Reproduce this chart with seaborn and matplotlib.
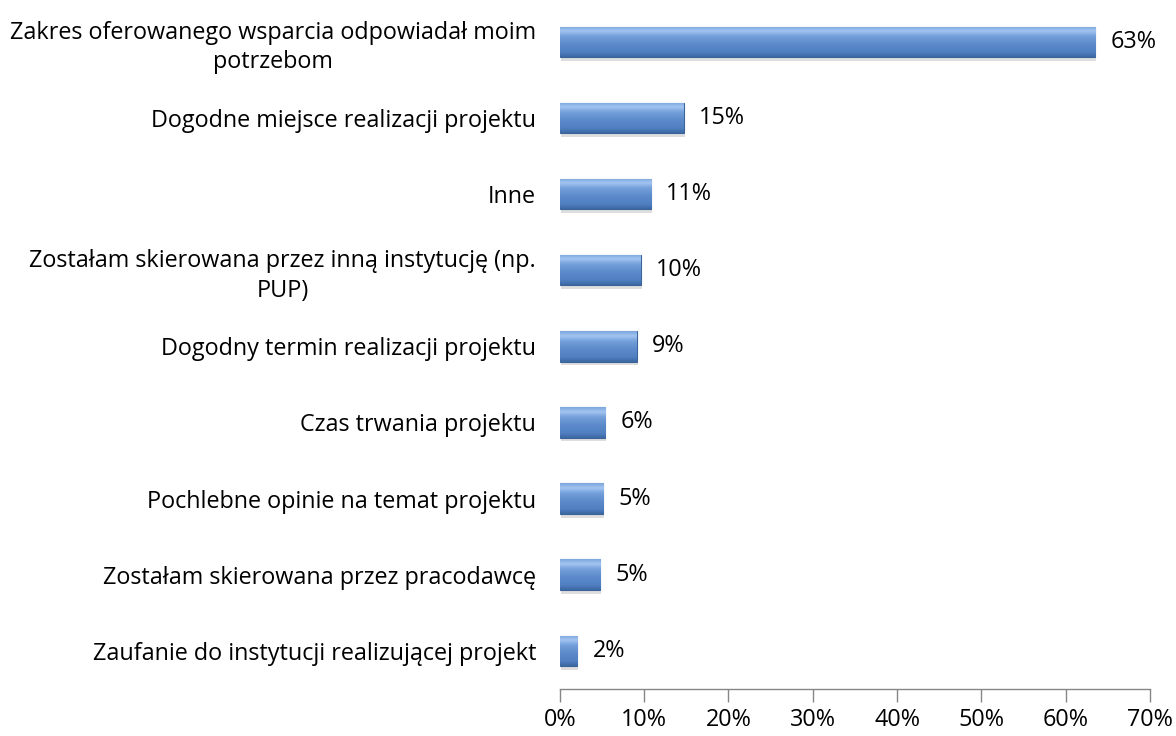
import numpy as np
import pandas as pd
import matplotlib.pyplot as plt
import matplotlib.colors as mcolors
import seaborn as sns

# ── DANE ────────────────────────────────────────────────────
kategorie = [
    'Zakres oferowanego wsparcia odpowiadał moim\npotrzebom',
    'Dogodne miejsce realizacji projektu',
    'Inne',
    'Zostałam skierowana przez inną instytucję (np.\nPUP)',
    'Dogodny termin realizacji projektu',
    'Czas trwania projektu',
    'Pochlebne opinie na temat projektu',
    'Zostałam skierowana przez pracodawcę',
    'Zaufanie do instytucji realizującej projekt',
]
wartosci = [63.5, 14.7, 10.8, 9.6, 9.1, 5.4, 5.1, 4.8, 2.1]
etykiety = ['63%', '15%', '11%', '10%', '9%', '6%', '5%', '5%', '2%']
ticki_x = [0, 10, 20, 30, 40, 50, 60, 70]

df = pd.DataFrame({'kategoria': kategorie, 'wartosc': wartosci})

# ── STYL ────────────────────────────────────────────────────
sns.set_theme(style='white')
plt.rcParams['font.family'] = ['Open Sans', 'DejaVu Sans']
plt.rcParams['text.color'] = 'black'
plt.rcParams['xtick.color'] = 'black'
plt.rcParams['ytick.color'] = 'black'
FS = 16.8

fig = plt.figure(figsize=(11.76, 7.36), dpi=100)
ax = fig.add_axes([0.476, 0.064, 0.502, 0.931])

sns.barplot(data=df, x='wartosc', y='kategoria', color='#5A88C9',
            width=0.4, edgecolor='#3B6598', linewidth=0.8, ax=ax)

# gradient w słupkach (efekt "wypukły")
grad = mcolors.LinearSegmentedColormap.from_list(
    'bevel', [(0.0, '#7EA6DD'), (0.15, '#A2C4F0'), (0.32, '#74A0DA'),
              (0.6, '#5B89CA'), (0.85, '#5080C1'), (1.0, '#3C68A2')])
yl = ax.get_ylim()
for p in ax.patches:
    x0, y0, w, h = p.get_x(), p.get_y(), p.get_width(), p.get_height()
    img = ax.imshow(np.linspace(0, 1, 64).reshape(-1, 1), cmap=grad,
                    extent=(x0, x0 + w, y0 + h, y0), aspect='auto',
                    zorder=p.get_zorder() + 0.1, origin='upper')
    img.set_clip_path(p)
    # delikatny cień pod słupkiem
    ax.add_patch(plt.Rectangle((x0 + 0.12, y0 + 0.05), w, h,
                               color='#C8C8C8', alpha=0.6,
                               zorder=p.get_zorder() - 0.5, lw=0))

ax.set_ylim(yl)
ax.set_xlim(0, 70)

ax.bar_label(ax.containers[0], labels=etykiety, padding=11, fontsize=FS)

# ── OSIE ────────────────────────────────────────────────────
ax.set_xticks(ticki_x)
ax.set_xticklabels([f'{t}%' for t in ticki_x], fontsize=FS)
ax.set_yticks(range(len(kategorie)), labels=kategorie, fontsize=FS,
              multialignment='center', linespacing=1.3)
ax.set_xlabel('')
ax.set_ylabel('')
ax.tick_params(axis='x', direction='out', length=9, width=1,
               color='#868686', pad=5, bottom=True)
ax.tick_params(axis='y', length=0, pad=17)

for s in ['left', 'top', 'right']:
    ax.spines[s].set_visible(False)
ax.spines['bottom'].set_color('#868686')
ax.spines['bottom'].set_linewidth(1)

plt.savefig('out.png', dpi=100)
